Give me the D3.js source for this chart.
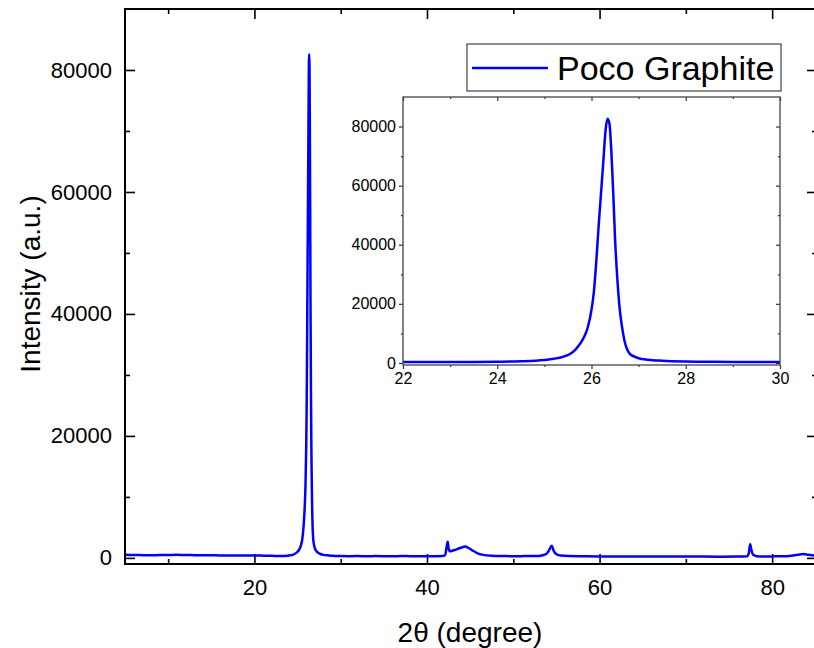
<!DOCTYPE html>
<html>
<head>
<meta charset="utf-8">
<script src="https://cdn.jsdelivr.net/npm/d3@7"></script>
<style>
  html, body { margin: 0; padding: 0; background: #fff; }
  svg { display: block; font-family: "Liberation Sans", Arial, sans-serif; }
</style>
</head>
<body>
<svg id="chart" width="814" height="648"></svg>
<script>
// ---- data ----
const twoTheta = [5,6,7,8,9,10,11,12,13,14,15,16,17,18,19,20,21,22,23,23.5,24,24.5,25,25.2,25.4,25.55,25.67,25.75,25.85,25.92,26.0,26.05,26.1,26.15,26.2,26.25,26.3,26.34,26.38,26.42,26.46,26.5,26.55,26.6,26.65,26.7,26.75,26.82,26.9,27.0,27.2,27.5,28.0,28.5,29.0,29.5,30,31,32,33,34,35,36,37,38,39,40,41,41.8,42.1,42.3,42.4,42.5,42.65,43.0,43.5,44.0,44.4,44.8,45.3,45.8,46.5,47.5,49,50,51,52,53,53.8,54.2,54.45,54.7,55.0,55.5,56.5,58,60,62,64,66,68,70,72,74,76,77.1,77.3,77.45,77.6,77.8,78.2,79,80,81,82,83,83.6,84.2,85];
const intensity = [520,470,450,430,460,480,510,470,450,430,420,410,400,390,380,380,370,340,300,330,400,550,1000,1400,2100,3100,4700,6300,9000,12000,18000,24000,34000,46000,57000,68000,79000,82600,81000,72000,58000,42000,28000,18000,12000,7500,4800,3000,2200,1600,1100,750,500,420,350,320,300,290,300,280,300,290,280,300,290,280,270,280,300,500,2000,2650,1600,1100,1200,1450,1700,1850,1650,1200,800,500,350,300,280,290,300,330,600,1400,2000,1100,600,380,300,270,250,240,230,220,220,210,210,200,210,260,800,2250,1300,500,280,240,250,260,320,520,620,520,380];
const seriesName = "Poco Graphite";
const mainXTicks = [20, 40, 60, 80];
const mainXMinor = [10, 30, 50, 70];
const mainYTicks = [0, 20000, 40000, 60000, 80000];
const mainYMinor = [10000, 30000, 50000, 70000];
const insetXTicks = [22, 24, 26, 28, 30];
const insetXMinor = [23, 25, 27, 29];
const insetYTicks = [0, 20000, 40000, 60000, 80000];
const insetYMinor = [10000, 30000, 50000, 70000];
const xTitle = "2θ (degree)";
const yTitle = "Intensity (a.u.)";

const data = twoTheta.map((t, i) => ({x: t, y: intensity[i]}));
const svg = d3.select("#chart");
const blue = "#0000ff";

// ---- main plot ----
const M = {left: 125, right: 817, top: 9, bottom: 564};
const x = d3.scaleLinear().domain([5, 85.2]).range([M.left, M.right]);
const y = d3.scaleLinear().domain([-1000, 90000]).range([M.bottom, M.top]);

svg.append("defs").append("clipPath").attr("id", "mainClip")
  .append("rect").attr("x", M.left).attr("y", M.top)
  .attr("width", M.right - M.left).attr("height", M.bottom - M.top);

function styleAxis(g, size) {
  g.select(".domain").remove();
  g.selectAll(".tick line").attr("stroke", "#000").attr("stroke-width", 1.6);
  g.selectAll(".tick text").attr("fill", "#000").style("font-size", size + "px")
    .style("font-family", '"Liberation Sans", Arial, sans-serif');
}

// bottom
svg.append("g").attr("transform", `translate(0,${M.bottom})`)
  .call(d3.axisBottom(x).tickValues(mainXTicks).tickSize(-10).tickPadding(15).tickFormat(d3.format("d")))
  .call(g => styleAxis(g, 22));
svg.append("g").attr("transform", `translate(0,${M.bottom})`)
  .call(d3.axisBottom(x).tickValues(mainXMinor).tickSize(-5).tickFormat(""))
  .call(g => styleAxis(g, 22));
// top
svg.append("g").attr("transform", `translate(0,${M.top})`)
  .call(d3.axisTop(x).tickValues(mainXTicks).tickSize(-10).tickFormat(""))
  .call(g => styleAxis(g, 22));
svg.append("g").attr("transform", `translate(0,${M.top})`)
  .call(d3.axisTop(x).tickValues(mainXMinor).tickSize(-5).tickFormat(""))
  .call(g => styleAxis(g, 22));
// left
svg.append("g").attr("transform", `translate(${M.left},0)`)
  .call(d3.axisLeft(y).tickValues(mainYTicks).tickSize(-10).tickPadding(13).tickFormat(d3.format("d")))
  .call(g => styleAxis(g, 22));
svg.append("g").attr("transform", `translate(${M.left},0)`)
  .call(d3.axisLeft(y).tickValues(mainYMinor).tickSize(-5).tickFormat(""))
  .call(g => styleAxis(g, 22));
// right
svg.append("g").attr("transform", `translate(${M.right},0)`)
  .call(d3.axisRight(y).tickValues(mainYTicks).tickSize(-10).tickFormat(""))
  .call(g => styleAxis(g, 22));
svg.append("g").attr("transform", `translate(${M.right},0)`)
  .call(d3.axisRight(y).tickValues(mainYMinor).tickSize(-5).tickFormat(""))
  .call(g => styleAxis(g, 22));

const line = d3.line().x(d => x(d.x)).y(d => y(d.y)).curve(d3.curveMonotoneX);
svg.append("path").datum(data)
  .attr("clip-path", "url(#mainClip)")
  .attr("fill", "none").attr("stroke", blue).attr("stroke-width", 2.5)
  .attr("stroke-linejoin", "round").attr("d", line);

svg.append("rect").attr("x", M.left).attr("y", M.top)
  .attr("width", M.right - M.left).attr("height", M.bottom - M.top)
  .attr("fill", "none").attr("stroke", "#000").attr("stroke-width", 2);

// axis titles
svg.append("text").attr("x", 470).attr("y", 642).attr("text-anchor", "middle")
  .style("font-size", "28px").attr("fill", "#000").text(xTitle);
svg.append("text").attr("transform", "translate(40,284) rotate(-90)")
  .attr("text-anchor", "middle").style("font-size", "28px").attr("fill", "#000").text(yTitle);

// legend
const lg = svg.append("g");
lg.append("rect").attr("x", 467).attr("y", 44).attr("width", 314).attr("height", 47)
  .attr("fill", "#fff").attr("stroke", "#444").attr("stroke-width", 1.2);
lg.append("line").attr("x1", 472).attr("x2", 548).attr("y1", 68).attr("y2", 68)
  .attr("stroke", blue).attr("stroke-width", 2.5);
lg.append("text").attr("x", 557).attr("y", 80).style("font-size", "34px")
  .attr("fill", "#000").text(seriesName);

// ---- inset ----
const I = {left: 403, right: 780, top: 97, bottom: 365};
const xi = d3.scaleLinear().domain([22, 30]).range([I.left, I.right]);
const yi = d3.scaleLinear().domain([-700, 90000]).range([I.bottom, I.top]);

svg.append("rect").attr("x", I.left).attr("y", I.top)
  .attr("width", I.right - I.left).attr("height", I.bottom - I.top).attr("fill", "#fff");
svg.append("defs").append("clipPath").attr("id", "insetClip")
  .append("rect").attr("x", I.left).attr("y", I.top)
  .attr("width", I.right - I.left).attr("height", I.bottom - I.top);

function styleInset(g) {
  g.select(".domain").remove();
  g.selectAll(".tick line").attr("stroke", "#333").attr("stroke-width", 1.2);
  g.selectAll(".tick text").attr("fill", "#000").style("font-size", "16px")
    .style("font-family", '"Liberation Sans", Arial, sans-serif');
}
svg.append("g").attr("transform", `translate(0,${I.bottom})`)
  .call(d3.axisBottom(xi).tickValues(insetXTicks).tickSize(4).tickPadding(4).tickFormat(d3.format("d")))
  .call(styleInset);
svg.append("g").attr("transform", `translate(0,${I.bottom})`)
  .call(d3.axisBottom(xi).tickValues(insetXMinor).tickSize(2).tickFormat("")).call(styleInset);
svg.append("g").attr("transform", `translate(0,${I.top})`)
  .call(d3.axisTop(xi).tickValues(insetXTicks).tickSize(-4).tickFormat("")).call(styleInset);
svg.append("g").attr("transform", `translate(0,${I.top})`)
  .call(d3.axisTop(xi).tickValues(insetXMinor).tickSize(-2).tickFormat("")).call(styleInset);
svg.append("g").attr("transform", `translate(${I.left},0)`)
  .call(d3.axisLeft(yi).tickValues(insetYTicks).tickSize(4).tickPadding(3).tickFormat(d3.format("d")))
  .call(styleInset);
svg.append("g").attr("transform", `translate(${I.left},0)`)
  .call(d3.axisLeft(yi).tickValues(insetYMinor).tickSize(2).tickFormat("")).call(styleInset);
svg.append("g").attr("transform", `translate(${I.right},0)`)
  .call(d3.axisRight(yi).tickValues(insetYTicks).tickSize(-4).tickFormat("")).call(styleInset);
svg.append("g").attr("transform", `translate(${I.right},0)`)
  .call(d3.axisRight(yi).tickValues(insetYMinor).tickSize(-2).tickFormat("")).call(styleInset);

const insetData = data.filter(d => d.x >= 21 && d.x <= 31);
const lineI = d3.line().x(d => xi(d.x)).y(d => yi(d.y)).curve(d3.curveMonotoneX);
svg.append("path").datum(insetData)
  .attr("clip-path", "url(#insetClip)")
  .attr("fill", "none").attr("stroke", blue).attr("stroke-width", 2.5)
  .attr("stroke-linejoin", "round").attr("d", lineI);

svg.append("rect").attr("x", I.left).attr("y", I.top)
  .attr("width", I.right - I.left).attr("height", I.bottom - I.top)
  .attr("fill", "none").attr("stroke", "#444").attr("stroke-width", 1.3);
</script>
</body>
</html>
